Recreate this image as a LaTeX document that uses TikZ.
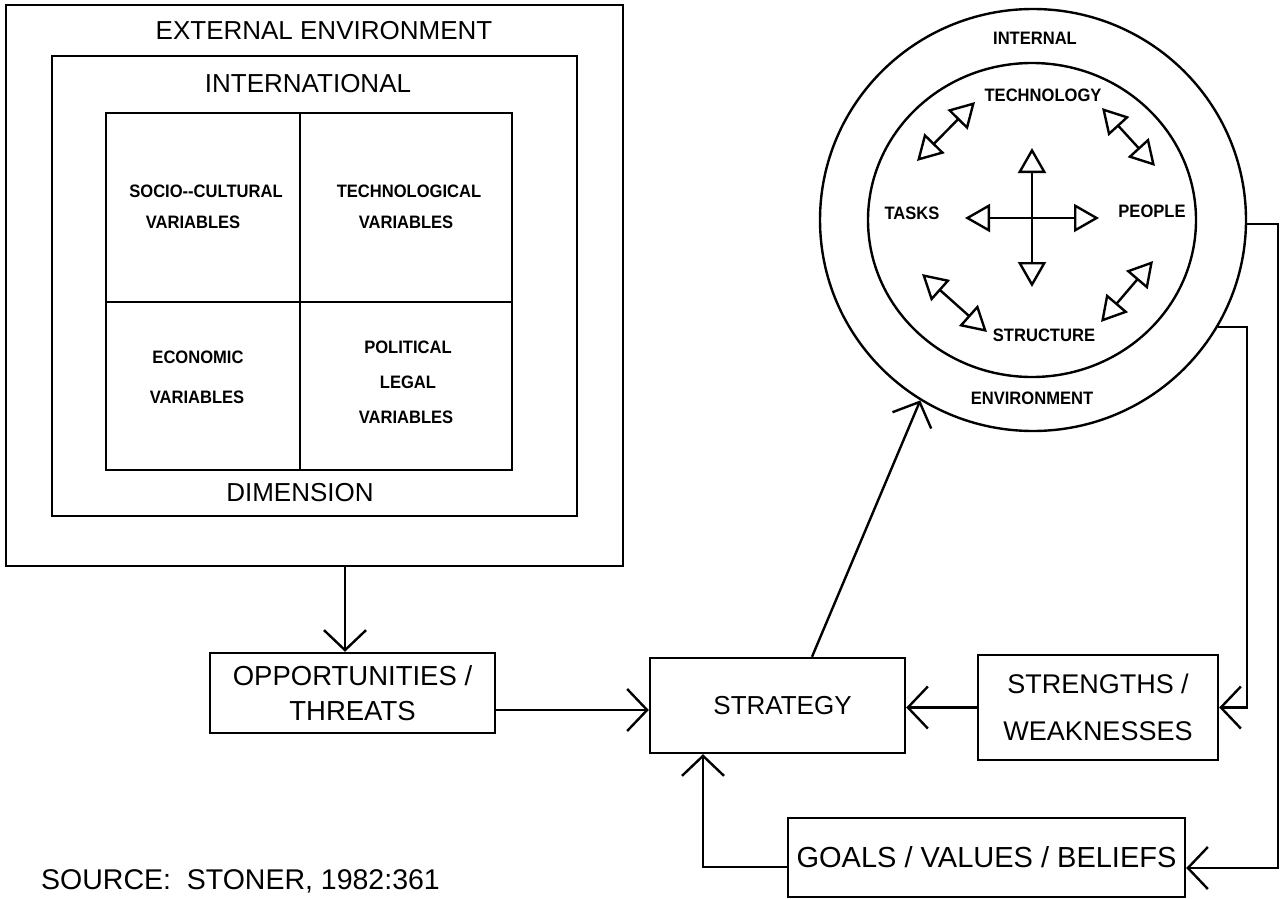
\documentclass[tikz,border=0pt]{standalone}
\usepackage{fontspec}
\setmainfont{Liberation Sans}
\newfontfamily\nbfont[FakeStretch=0.92]{Liberation Sans}
\usetikzlibrary{arrows.meta,shapes.geometric}
\begin{document}
\begin{tikzpicture}[x=1pt,y=-1pt,
  line width=2.4pt,
  big/.style={font=\fontsize{26}{30}\selectfont, inner sep=0pt},
  sm/.style={font=\nbfont\bfseries\fontsize{18}{22}\selectfont, inner sep=0pt},
  box/.style={draw, rectangle, inner sep=0pt, line width=2.4pt},
  arr/.style={-{Straight Barb[length=20pt,width=42pt]}},
  dbl/.style={{Triangle[open,length=25pt,width=28pt]}-{Triangle[open,length=25pt,width=28pt]}},
]
\useasboundingbox (0,0) rectangle (1280,899);

% ---------- external environment ----------
\node[box, minimum width=617pt, minimum height=561pt] (ext) at (314.5,285.5) {};
\node[box, minimum width=525pt, minimum height=460pt] (intl) at (314.5,286) {};
\node[box, minimum width=406pt, minimum height=357pt] (grid) at (309,291.5) {};
\coordinate (divx) at (300,302);
\draw (grid.north -| divx) -- (grid.south -| divx);
\draw (grid.west |- divx) -- (grid.east |- divx);

\node[big] (extl) at (324,31) {EXTERNAL ENVIRONMENT};
\node[big] (intll) at (308,84) {INTERNATIONAL};
\node[big] (diml) at (300,493) {DIMENSION};

\node[sm] (soc1) at (206,191) {SOCIO-{}-CULTURAL};
\node[sm] (soc2) at (193,222) {VARIABLES};
\node[sm] (tec1) at (409,191) {TECHNOLOGICAL};
\node[sm] (tec2) at (406,222) {VARIABLES};
\node[sm] (eco1) at (198,357) {ECONOMIC};
\node[sm] (eco2) at (197,397) {VARIABLES};
\node[sm] (pol1) at (408,347) {POLITICAL};
\node[sm] (pol2) at (408,382) {LEGAL};
\node[sm] (pol3) at (406,417) {VARIABLES};

% ---------- bottom boxes ----------
\node[box, big, minimum width=285pt, minimum height=80pt, align=center,
      font=\fontsize{27.5}{35}\selectfont] (opp) at (352.5,693) {OPPORTUNITIES /\\THREATS};
\node[box, big, minimum width=255pt, minimum height=95pt] (strat) at (777.5,705.5) {\hspace*{10pt}STRATEGY};
\node[box, big, minimum width=240pt, minimum height=105pt, align=center,
      font=\fontsize{27}{47}\selectfont] (sw) at (1098,707.5) {STRENGTHS /\\WEAKNESSES};
\node[box, big, minimum width=397pt, minimum height=79pt,
      font=\fontsize{29}{32}\selectfont] (goals) at (986.5,857.5) {GOALS / VALUES / BELIEFS};
\node[big, anchor=west, font=\fontsize{28.5}{30}\selectfont] (src) at (40,881) {SOURCE:\ \ STONER, 1982:361};

% ---------- internal environment circle ----------
\node[draw, ellipse, minimum width=426pt, minimum height=422pt, inner sep=0pt] (outc) at (1033,220) {};
\node[draw, ellipse, minimum width=328pt, minimum height=314pt, inner sep=0pt] (inc) at (1032,220) {};

\node[sm] (inl) at (1035,38) {INTERNAL};
\node[sm] (envl) at (1032,398) {ENVIRONMENT};
\node[sm] (tech) at (1043,95) {TECHNOLOGY};
\node[sm] (tasks) at (912,213) {TASKS};
\node[sm] (people) at (1152,211) {PEOPLE};
\node[sm] (struct) at (1044,335) {STRUCTURE};

\coordinate (up) at (1032,148);
\coordinate (dn) at (1032,287);
\coordinate (lf) at (965,218);
\coordinate (rt) at (1099,218);
\draw[dbl] (dn) -- (up);
\draw[dbl] (lf) -- (rt);

\coordinate (tl1) at (917,161);
\coordinate (tl2) at (975,102);
\coordinate (tr1) at (1102,108);
\coordinate (tr2) at (1155,166);
\coordinate (bl1) at (922,274);
\coordinate (bl2) at (987,332);
\coordinate (br1) at (1101,322);
\coordinate (br2) at (1153,261);
\draw[dbl] (tl1) -- (tl2);
\draw[dbl] (tr1) -- (tr2);
\draw[dbl] (bl1) -- (bl2);
\draw[dbl] (br1) -- (br2);

% ---------- connectors ----------
\coordinate (c1) at (345,0);
\draw[arr] (ext.south -| c1) -- (opp.north -| c1);
\coordinate (c2) at (0,710);
\draw[arr] (opp.east |- c2) -- (strat.west |- c2);
\draw[arr] (sw.west) -- (strat.east |- sw.west);
\coordinate (c3) at (703,867);
\draw[arr] (goals.west |- c3) -| (strat.south -| c3);
\coordinate (c4) at (812,0);
\draw[arr] (strat.north -| c4) -- (outc.238.6);
\coordinate (c5) at (1247,0);
\draw[arr] (outc.-30.5) -| (c5 |- sw.east) -- (sw.east);
\coordinate (c6) at (1278,0);
\coordinate (c7) at (0,868);
\draw[arr] (outc.-1.6) -| (c6 |- c7) -- (goals.east |- c7);
\end{tikzpicture}
\end{document}
